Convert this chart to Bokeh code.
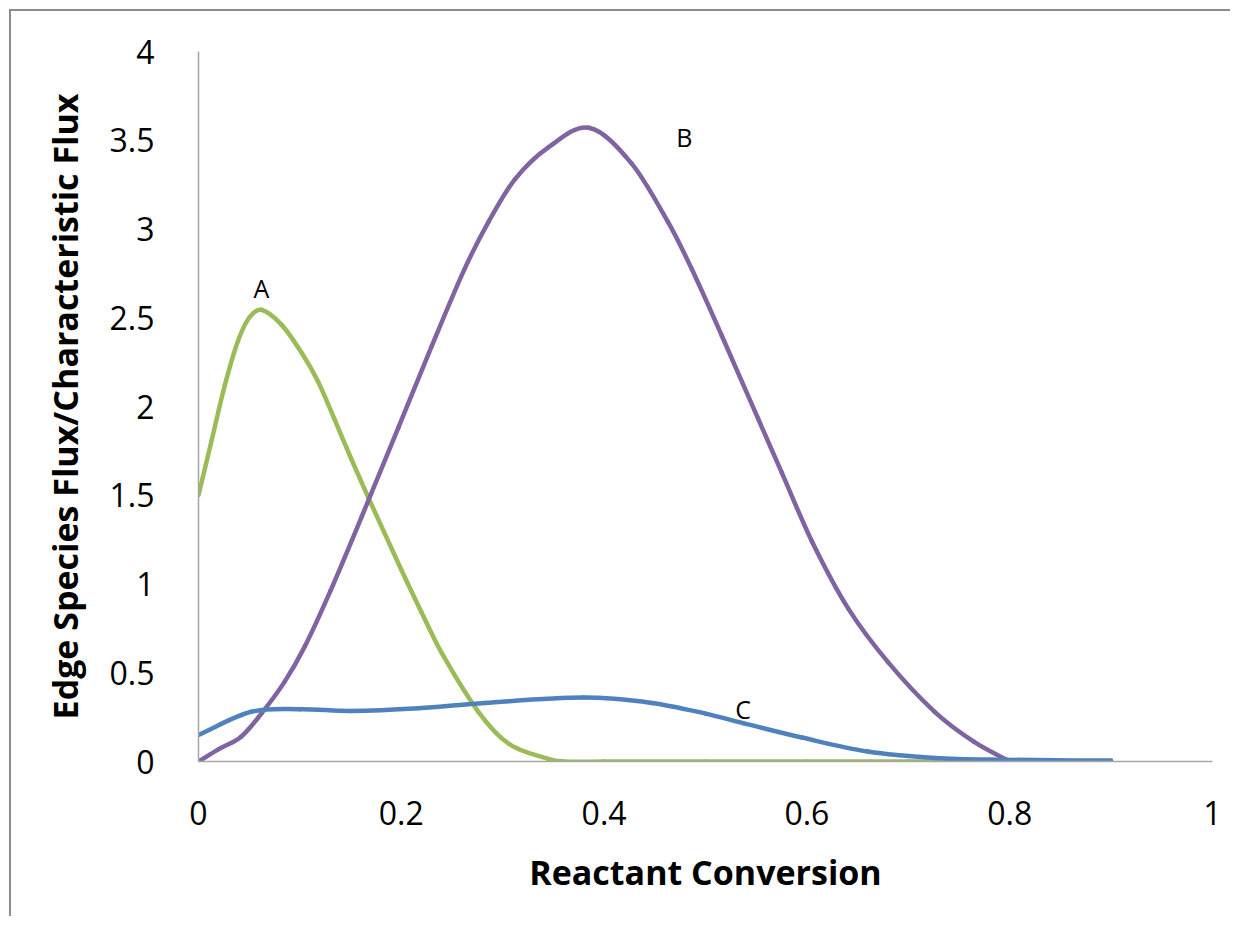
from bokeh.plotting import figure
from bokeh.embed import file_html
from bokeh.resources import INLINE
from bokeh.models import FixedTicker, Range1d
from bokeh.core.properties import value

# Series A (green)
a_x = [0, 0.013, 0.026, 0.039, 0.05, 0.062, 0.082, 0.102, 0.118, 0.134, 0.151, 0.168,
       0.2, 0.22, 0.24, 0.276, 0.306, 0.345, 0.36, 0.4, 0.5, 0.6, 0.7, 0.8]
a_y = [1.50, 1.81, 2.12, 2.37, 2.50, 2.545, 2.46, 2.30, 2.14, 1.93, 1.70, 1.48,
       1.08, 0.84, 0.61, 0.28, 0.10, 0.015, 0, 0, 0, 0, 0, 0]

# Series B (purple)
b_x = [0, 0.02, 0.042, 0.062, 0.085, 0.105, 0.13, 0.161, 0.197, 0.23, 0.262, 0.286,
       0.312, 0.345, 0.385, 0.427, 0.463, 0.486, 0.516, 0.552, 0.575, 0.605, 0.641,
       0.68, 0.726, 0.765, 0.80]
b_y = [0, 0.07, 0.14, 0.27, 0.45, 0.65, 0.96, 1.38, 1.88, 2.34, 2.77, 3.04,
       3.28, 3.46, 3.57, 3.37, 3.04, 2.78, 2.40, 1.93, 1.63, 1.24, 0.86,
       0.56, 0.28, 0.11, 0.0]

# Series C (blue)
c_x = [0, 0.052, 0.1, 0.15, 0.217, 0.282, 0.38, 0.447, 0.5, 0.538, 0.595, 0.66,
       0.726, 0.79, 0.9]
c_y = [0.15, 0.28, 0.295, 0.285, 0.30, 0.33, 0.36, 0.33, 0.27, 0.215, 0.135, 0.056,
       0.02, 0.01, 0.005]

# Curve labels
label_text = ["A", "B", "C"]
label_x = [0.062, 0.479, 0.537]
label_y = [2.67, 3.52, 0.293]

x_ticks = [0, 0.2, 0.4, 0.6, 0.8, 1]
x_tick_labels = ["0", "0.2", "0.4", "0.6", "0.8", "1"]
y_ticks = [0, 0.5, 1, 1.5, 2, 2.5, 3, 3.5, 4]
y_tick_labels = ["0", "0.5", "1", "1.5", "2", "2.5", "3", "3.5", "4"]

FONT = "Open Sans"


def smooth_segments(xs, ys):
    """Smoothed line drawing: one cubic Bezier between each pair of data points,
    tangents from neighbouring data points (Catmull-Rom in x)."""
    n = len(xs)

    def slope(i):
        im = max(i - 1, 0)
        ip = min(i + 1, n - 1)
        return (ys[ip] - ys[im]) / (xs[ip] - xs[im])

    seg = {k: [] for k in ("x0", "y0", "x1", "y1", "cx0", "cy0", "cx1", "cy1")}
    for i in range(n - 1):
        h = xs[i + 1] - xs[i]
        seg["x0"].append(xs[i]); seg["y0"].append(ys[i])
        seg["x1"].append(xs[i + 1]); seg["y1"].append(ys[i + 1])
        seg["cx0"].append(xs[i] + h / 3)
        seg["cy0"].append(ys[i] + slope(i) * h / 3)
        seg["cx1"].append(xs[i + 1] - h / 3)
        seg["cy1"].append(ys[i + 1] - slope(i + 1) * h / 3)
    return seg


p = figure(width=1221, height=907, output_backend="svg", toolbar_location=None,
           x_range=Range1d(0, 1), y_range=Range1d(0, 4),
           min_border_left=187, min_border_right=20, min_border_top=40,
           min_border_bottom=157,
           margin=(9, 0, 0, 9),
           styles={"border-left": "2px solid #8c8c8c", "border-top": "2px solid #8c8c8c",
                   "box-sizing": "border-box"})
p.outline_line_color = None
p.grid.visible = False

for xs, ys, col in ((a_x, a_y, "#9BBB59"), (b_x, b_y, "#8064A2"), (c_x, c_y, "#4F81BD")):
    p.bezier(**smooth_segments(xs, ys), line_color=col, line_width=4.5, line_cap="round")

p.text(x=label_x, y=label_y, text=label_text, text_font=value(FONT),
       text_font_size="25px", text_color="#000000", text_align="center",
       text_baseline="middle")

for ax in (p.xaxis[0], p.yaxis[0]):
    ax.axis_line_color = "#a6a6a6"
    ax.axis_line_width = 1.5
    ax.major_tick_line_color = None
    ax.minor_tick_line_color = None
    ax.major_label_text_font = FONT
    ax.major_label_text_font_size = "32px"
    ax.major_label_text_color = "#000000"
    ax.axis_label_text_font = FONT
    ax.axis_label_text_font_style = "bold"
    ax.axis_label_text_font_size = "34px"
    ax.axis_label_text_color = "#000000"

p.xaxis.ticker = FixedTicker(ticks=x_ticks)
p.xaxis.major_label_overrides = {t: l for t, l in zip(x_ticks, x_tick_labels)}
p.yaxis.ticker = FixedTicker(ticks=y_ticks)
p.yaxis.major_label_overrides = {t: l for t, l in zip(y_ticks, y_tick_labels)}

p.xaxis.axis_label = "Reactant Conversion"
p.yaxis.axis_label = "Edge Species Flux/Characteristic Flux"
p.xaxis.major_label_standoff = 33
p.yaxis.major_label_standoff = 38
p.xaxis.axis_label_standoff = 21
p.yaxis.axis_label_standoff = 19

open("out.html", "w").write(file_html(p, INLINE))
